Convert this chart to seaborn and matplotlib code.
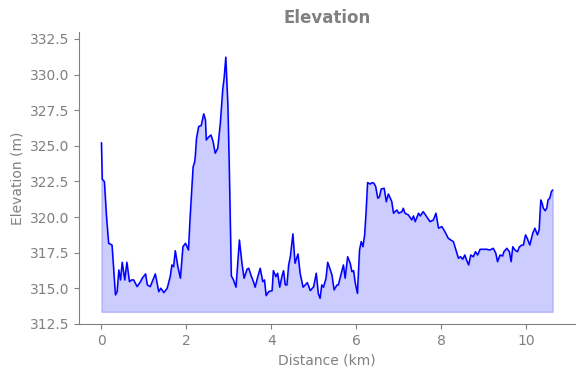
import matplotlib
matplotlib.use("Agg")
import matplotlib.pyplot as plt
import seaborn as sns
import pandas as pd

# distance along the track (km) and elevation (m)
distance_km = [
    0.00, 0.02, 0.07, 0.12, 0.17, 0.25, 0.33, 0.37, 0.41, 0.45,
    0.49, 0.55, 0.60, 0.66, 0.71, 0.76, 0.84, 0.92, 0.96, 1.04,
    1.08, 1.15, 1.23, 1.27, 1.35, 1.40, 1.47, 1.55, 1.62, 1.66,
    1.70, 1.74, 1.80, 1.86, 1.92, 1.98, 2.05, 2.09, 2.16, 2.19,
    2.21, 2.24, 2.29, 2.35, 2.41, 2.45, 2.47, 2.52, 2.58, 2.63,
    2.68, 2.74, 2.80, 2.86, 2.89, 2.93, 2.98, 3.01, 3.06, 3.11,
    3.17, 3.25, 3.31, 3.36, 3.43, 3.47, 3.52, 3.58, 3.62, 3.68,
    3.74, 3.80, 3.84, 3.88, 3.94, 4.02, 4.05, 4.11, 4.15, 4.20,
    4.25, 4.29, 4.33, 4.37, 4.41, 4.45, 4.51, 4.56, 4.63, 4.68,
    4.75, 4.80, 4.85, 4.92, 5.00, 5.06, 5.11, 5.15, 5.19, 5.23,
    5.29, 5.33, 5.39, 5.43, 5.48, 5.55, 5.58, 5.64, 5.70, 5.74,
    5.80, 5.86, 5.90, 5.94, 5.98, 6.03, 6.08, 6.12, 6.16, 6.20,
    6.23, 6.27, 6.33, 6.38, 6.42, 6.46, 6.51, 6.55, 6.59, 6.66,
    6.71, 6.76, 6.84, 6.88, 6.96, 7.00, 7.08, 7.11, 7.15, 7.23,
    7.31, 7.35, 7.39, 7.47, 7.51, 7.58, 7.66, 7.74, 7.82, 7.88,
    7.94, 8.02, 8.09, 8.17, 8.23, 8.29, 8.35, 8.41, 8.46, 8.51,
    8.56, 8.60, 8.65, 8.70, 8.76, 8.81, 8.86, 8.92, 9.08, 9.15,
    9.23, 9.29, 9.33, 9.39, 9.45, 9.48, 9.55, 9.61, 9.65, 9.69,
    9.74, 9.80, 9.84, 9.90, 9.94, 9.99, 10.03, 10.09, 10.16, 10.21,
    10.27, 10.31, 10.35, 10.38, 10.41, 10.45, 10.49, 10.52, 10.56, 10.60,
    10.63,
]
elevation_m = [
    325.22, 322.65, 322.49, 320.03, 318.16, 318.04, 314.54, 314.77, 316.29, 315.59,
    316.83, 315.59, 316.83, 315.47, 315.59, 315.59, 315.12, 315.47, 315.71, 316.01,
    315.24, 315.12, 315.71, 316.01, 314.77, 315.01, 314.70, 315.01, 315.82, 316.64,
    316.52, 317.64, 316.52, 315.71, 317.92, 318.16, 317.69, 320.03, 323.54, 323.78,
    324.24, 325.53, 326.35, 326.42, 327.24, 326.82, 325.41, 325.60, 325.76, 325.29,
    324.48, 324.83, 326.58, 329.04, 329.74, 331.22, 327.75, 323.78, 315.87, 315.59,
    315.08, 318.39, 316.76, 315.71, 316.34, 316.41, 315.94, 315.47, 315.08, 315.78,
    316.41, 315.47, 315.59, 314.49, 314.77, 314.84, 316.24, 315.82, 316.06, 315.08,
    315.82, 316.24, 315.24, 315.24, 316.64, 317.22, 318.82, 316.76, 317.41, 316.06,
    315.08, 315.24, 315.40, 314.84, 315.12, 316.06, 314.61, 314.30, 315.24, 315.08,
    315.71, 316.83, 316.29, 315.94, 314.89, 315.24, 315.24, 315.94, 316.64, 315.71,
    317.22, 316.76, 316.17, 316.24, 315.36, 314.65, 317.69, 318.28, 317.92, 318.75,
    320.15, 322.42, 322.32, 322.42, 322.37, 322.14, 321.32, 321.43, 321.97, 322.02,
    321.08, 321.62, 321.08, 320.27, 320.50, 320.27, 320.38, 320.62, 320.27, 320.15,
    319.80, 320.08, 319.68, 320.27, 320.08, 320.38, 320.03, 319.68, 319.80, 320.27,
    319.22, 319.33, 318.98, 318.51, 318.39, 318.28, 317.69, 317.11, 317.22, 317.04,
    317.34, 316.99, 316.64, 317.34, 317.22, 317.57, 317.34, 317.74, 317.74, 317.69,
    317.81, 317.46, 316.87, 317.34, 317.27, 317.57, 317.81, 317.57, 316.87, 317.92,
    317.69, 317.57, 317.88, 318.04, 318.04, 318.75, 318.51, 318.04, 318.86, 319.22,
    318.75, 319.10, 321.20, 320.97, 320.62, 320.45, 320.62, 321.20, 321.32, 321.79,
    321.90,
]
fill_floor = 313.35

df = pd.DataFrame({"Distance (km)": distance_km, "Elevation (m)": elevation_m})

gray = "#808080"
sns.set_style("ticks")
plt.rcParams["font.family"] = ["DejaVu Sans"]

fig, ax = plt.subplots(figsize=(5.84, 3.78), dpi=100)
fig.subplots_adjust(left=0.135, right=0.985, bottom=0.143, top=0.916)

ax.fill_between(df["Distance (km)"], df["Elevation (m)"], fill_floor,
                color="blue", alpha=0.2)
sns.lineplot(data=df, x="Distance (km)", y="Elevation (m)", color="blue",
             linewidth=1.1, ax=ax)

ax.set_ylim(312.5, 333.0)
ax.set_title("Elevation", color=gray, fontweight="bold", fontsize=12)
ax.set_xlabel("Distance (km)", color=gray)
ax.set_ylabel("Elevation (m)", color=gray)
ax.tick_params(colors=gray, labelcolor=gray)
sns.despine(ax=ax)
for side in ["left", "bottom"]:
    ax.spines[side].set_color(gray)

fig.savefig("out.png", dpi=100)
